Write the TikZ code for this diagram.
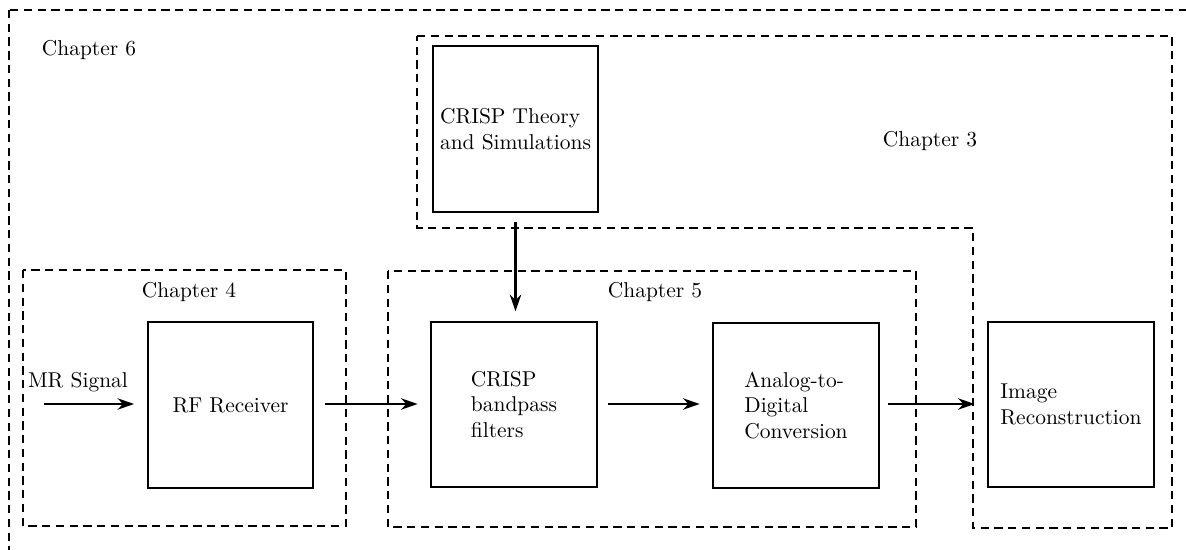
\documentclass[tikz,border=0pt]{standalone}
\usetikzlibrary{arrows.meta}
\begin{document}
\begin{tikzpicture}[x=0.48pt,y=-0.48pt,
  blockbox/.style={draw,line width=1pt,minimum width=79.5pt,minimum height=79.5pt,inner sep=0pt,align=left,font=\fontsize{10.3}{12.4}\selectfont},
  chapbox/.style={draw,line width=1pt,dash pattern=on 4pt off 2.6pt},
  chaplabel/.style={inner sep=0pt,font=\fontsize{10.3}{12.4}\selectfont},
  flow/.style={line width=1pt,-{Stealth[length=8pt,width=5.5pt,inset=2.6pt]},shorten <=5pt,shorten >=6pt}]
\useasboundingbox (0,0) rectangle (1186,550);
\begin{scope}
\clip (0,0) rectangle (1186,550);
% Chapter 6 outer box (extends beyond the picture)
\draw[chapbox] (9,10) rectangle (1200,570);
\end{scope}
% Chapter 3 region
\draw[chapbox] (417,36) -- (1172,36) -- (1172,528) -- (973,528) -- (973,228) -- (417,228) -- cycle;
% Chapter 4 and Chapter 5 boxes
\draw[chapbox] (23,270) rectangle (346,526);
\draw[chapbox] (388,271) rectangle (916,527);

\node[chaplabel] (c6) at (89,50) {Chapter 6};
\node[chaplabel] (c3) at (930,141) {Chapter 3};
\node[chaplabel] (c4) at (189,292) {Chapter 4};
\node[chaplabel] (c5) at (655,292) {Chapter 5};

\node[blockbox] (theory) at (515.5,129) {CRISP Theory\\and Simulations};
\node[blockbox] (rf) at (230.5,405) {RF Receiver};
\node[blockbox] (bp) at (514,404.5) {CRISP\\bandpass\\filters};
\node[blockbox] (adc) at (796,405.5) {Analog-to-\\Digital\\Conversion};
\node[blockbox] (img) at (1071,404.5) {Image\\Reconstruction};

\coordinate (mrin) at (44,404);
\node[chaplabel] (mr) at (78,382) {MR Signal};

\draw[flow,shorten <=0pt] (mrin) -- (mrin -| rf.west);
\draw[flow] (rf.east |- 0,404) -- (bp.west |- 0,404);
\draw[flow] (bp.east |- 0,404) -- (adc.west |- 0,404);
\draw[flow,shorten <=4pt] (adc.east |- 0,404) -- (img.west |- 0,404);
\draw[flow,shorten <=4.5pt,shorten >=4.5pt] (theory.south) -- (theory.south |- bp.north);
\end{tikzpicture}
\end{document}
